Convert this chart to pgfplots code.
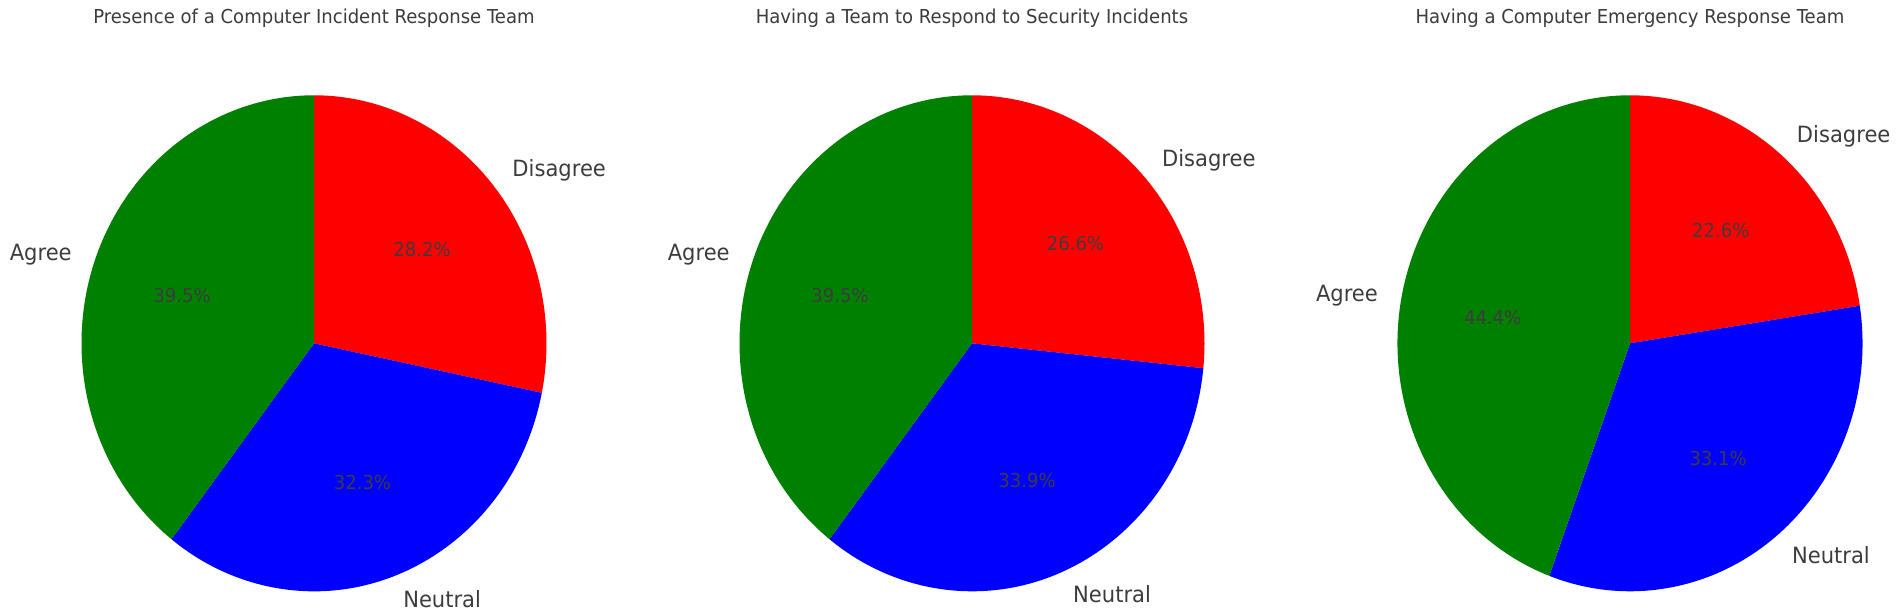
\documentclass[border=0pt]{standalone}
\usepackage{pgfplots}
\usepackage{pgfplotstable}
\usepackage{graphicx}
\pgfplotsset{compat=1.18}
\usepackage{fontspec}
\setmainfont{DejaVu Sans}

\definecolor{cAgree}{RGB}{0,128,0}
\definecolor{cNeutral}{RGB}{0,0,255}
\definecolor{cDisagree}{RGB}{255,0,0}
\definecolor{cInk}{RGB}{60,60,60}

% shares in %, in drawing order (clockwise from 12 o'clock)
\pgfplotstableread{
label value
Disagree 28.2
Neutral 32.3
Agree 39.5
}\tabCIRT
\pgfplotstableread{
label value
Disagree 26.6
Neutral 33.9
Agree 39.5
}\tabTeam
\pgfplotstableread{
label value
Disagree 22.6
Neutral 33.1
Agree 44.4
}\tabCERT

% the reference text is a little narrow for its height
\newcommand{\sq}[1]{\scalebox{0.94}[1]{#1}}
\newcommand{\titlefont}{\fontsize{9.6bp}{11bp}\selectfont}
\newcommand{\labelfont}{\fontsize{11.2bp}{13bp}\selectfont}
\newcommand{\pctfont}{\fontsize{9.6bp}{11bp}\selectfont}

% #1 table, #2 title, #3 centre x
\newcommand{\piechart}[3]{%
  \pgfplotstablegetelem{0}{value}\of#1\let\vA\pgfplotsretval
  \pgfplotstablegetelem{1}{value}\of#1\let\vB\pgfplotsretval
  \pgfplotstablegetelem{2}{value}\of#1\let\vC\pgfplotsretval
  \pgfplotstablegetelem{0}{label}\of#1\let\lA\pgfplotsretval
  \pgfplotstablegetelem{1}{label}\of#1\let\lB\pgfplotsretval
  \pgfplotstablegetelem{2}{label}\of#1\let\lC\pgfplotsretval
  \pgfmathsetmacro\tot{\vA+\vB+\vC}%
  \pgfmathsetmacro\aA{90}%
  \pgfmathsetmacro\aB{\aA-360*\vA/\tot}%
  \pgfmathsetmacro\aC{\aB-360*\vB/\tot}%
  \pgfmathsetmacro\aD{\aC-360*\vC/\tot}%
  \pgfmathsetmacro\mA{(\aA+\aB)/2}%
  \pgfmathsetmacro\mB{(\aB+\aC)/2}%
  \pgfmathsetmacro\mC{(\aC+\aD)/2}%
  \begin{axis}[
    at={(#3,134.85bp)}, anchor=center,
    hide axis, clip=false,
    x=116.25bp, y=124bp,
    xmin=-1.4, xmax=1.4, ymin=-1.4, ymax=1.4,
  ]
  \fill[cDisagree] (axis cs:0,0) -- (axis cs:{cos(\aA)},{sin(\aA)})
    arc[start angle=\aA, end angle=\aB, x radius=116.25bp, y radius=124bp] -- cycle;
  \fill[cNeutral] (axis cs:0,0) -- (axis cs:{cos(\aB)},{sin(\aB)})
    arc[start angle=\aB, end angle=\aC, x radius=116.25bp, y radius=124bp] -- cycle;
  \fill[cAgree] (axis cs:0,0) -- (axis cs:{cos(\aC)},{sin(\aC)})
    arc[start angle=\aC, end angle=\aD, x radius=116.25bp, y radius=124bp] -- cycle;
  \node[text=cInk, font=\pctfont] at (axis cs:{0.6*cos(\mA)},{0.6*sin(\mA)}) {\sq{\vA\%}};
  \node[text=cInk, font=\pctfont] at (axis cs:{0.6*cos(\mB)},{0.6*sin(\mB)}) {\sq{\vB\%}};
  \node[text=cInk, font=\pctfont] at (axis cs:{0.6*cos(\mC)},{0.6*sin(\mC)}) {\sq{\vC\%}};
  \node[text=cInk, font=\labelfont, anchor=west, inner sep=0pt]
    at (axis cs:{1.1*cos(\mA)},{1.1*sin(\mA)}) {\sq{\lA}};
  \node[text=cInk, font=\labelfont, anchor=west, inner sep=0pt]
    at (axis cs:{1.1*cos(\mB)},{1.1*sin(\mB)}) {\sq{\lB}};
  \node[text=cInk, font=\labelfont, anchor=east, inner sep=0pt]
    at (axis cs:{1.1*cos(\mC)},{1.1*sin(\mC)}) {\sq{\lC}};
  \node[text=cInk, font=\titlefont, anchor=base, inner sep=0pt]
    at (axis cs:0,1.2875) {\sq{#2}};
  \end{axis}}

\begin{document}
\begin{tikzpicture}
\piechart{\tabCIRT}{Presence of a Computer Incident Response Team}{157bp}
\piechart{\tabTeam}{Having a Team to Respond to Security Incidents}{486bp}
\piechart{\tabCERT}{Having a Computer Emergency Response Team}{815bp}
\pgfresetboundingbox
\path[use as bounding box] (0,0) rectangle (951bp,306.5bp);
\end{tikzpicture}
\end{document}
